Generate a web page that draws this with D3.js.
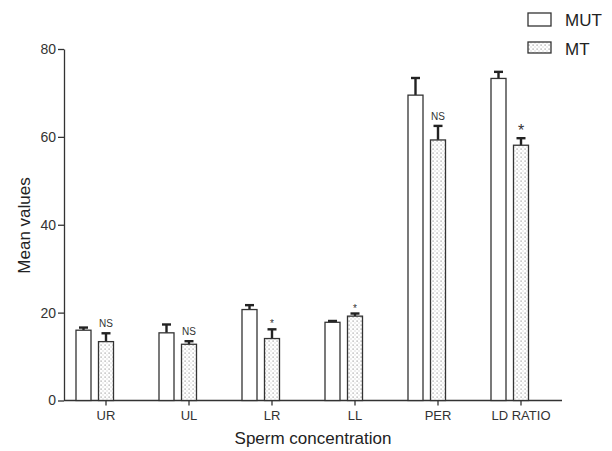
<!DOCTYPE html>
<html><head><meta charset="utf-8">
<script src="https://cdn.jsdelivr.net/npm/d3@7/dist/d3.min.js"></script>
<style>body{margin:0;background:#fff}svg{display:block;font-family:"Liberation Sans",Arial,sans-serif}</style>
</head><body><svg id="c" width="612" height="451"></svg>
<script>
const categories = ["UR","UL","LR","LL","PER","LD RATIO"];
const series = ["MUT","MT"];
const mutValues = [16.0, 15.4, 20.7, 17.8, 69.5, 73.3];
const mutErrors = [0.6, 1.9, 1.0, 0.3, 3.9, 1.5];
const mtValues = [13.4, 12.8, 14.1, 19.2, 59.3, 58.1];
const mtErrors = [1.9, 0.7, 2.1, 0.6, 3.2, 1.6];
const sigLabels = ["NS","NS","*","*","NS","*"];
const sigSizes = [10, 10, 10, 10, 10, 16];
const yTicks = [0,20,40,60,80];

const svg = d3.select("#c");
const defs = svg.append("defs");
const pat = defs.append("pattern").attr("id","dots").attr("patternUnits","userSpaceOnUse")
  .attr("width",4).attr("height",4);
pat.append("rect").attr("width",4).attr("height",4).attr("fill","#fff");
pat.append("rect").attr("x",0.5).attr("y",0.5).attr("width",1.2).attr("height",1.2).attr("fill","#999");
pat.append("rect").attr("x",2.5).attr("y",2.5).attr("width",1.0).attr("height",1.0).attr("fill","#bbb");

const axisX = 64;
const x = d3.scaleBand().domain(categories).range([64.5,562.5]).padding(0);
const y = d3.scaleLinear().domain([0,80]).range([400.5,49]);
const bw = 15;
const mutOffset = -22.5;
const ink = "#333";

// y axis
const ya = svg.append("g").attr("transform",`translate(${axisX},0)`)
  .call(d3.axisLeft(y).tickValues(yTicks).tickSize(6).tickPadding(2).tickSizeOuter(0));
ya.select(".domain").attr("stroke",ink).attr("stroke-width",1.3);
ya.selectAll(".tick line").attr("stroke",ink).attr("stroke-width",1.3);
ya.selectAll(".tick text").attr("font-size",14).attr("fill","#333").attr("font-family","Liberation Sans, Arial, sans-serif");

// x axis
const xa = svg.append("g").attr("transform",`translate(0,${y(0)})`)
  .call(d3.axisBottom(x).tickSize(5).tickPadding(5).tickSizeOuter(0));
xa.select(".domain").attr("stroke",ink).attr("stroke-width",1.3).attr("d",`M${axisX},0H562`);
xa.selectAll(".tick line").attr("stroke",ink).attr("stroke-width",1.3);
xa.selectAll(".tick text").attr("font-size",13).attr("fill","#333").attr("font-family","Liberation Sans, Arial, sans-serif");

const cx = c => x(c) + x.bandwidth()/2;

function drawBars(vals, errs, off, fill){
  const g = svg.append("g");
  categories.forEach((c,i)=>{
    const xc = cx(c) + off;
    g.append("line").attr("x1",xc).attr("x2",xc).attr("y1",y(vals[i])).attr("y2",y(vals[i]+errs[i]))
      .attr("stroke","#222").attr("stroke-width",2.4);
    g.append("line").attr("x1",xc-4.5).attr("x2",xc+4.5).attr("y1",y(vals[i]+errs[i])).attr("y2",y(vals[i]+errs[i]))
      .attr("stroke","#222").attr("stroke-width",2.4);
    g.append("rect").attr("x",xc-bw/2).attr("y",y(vals[i])).attr("width",bw).attr("height",y(0)-y(vals[i]))
      .attr("fill",fill).attr("stroke",ink).attr("stroke-width",1.3);
  });
}
drawBars(mutValues, mutErrors, mutOffset, "#fff");
drawBars(mtValues, mtErrors, 0, "url(#dots)");

// significance labels
categories.forEach((c,i)=>{
  const top = y(mtValues[i]+mtErrors[i]);
  const isStar = sigLabels[i]==="*";
  svg.append("text").attr("x",cx(c)).attr("y", isStar ? top - 2 : top - 6)
    .attr("text-anchor","middle").attr("font-size",sigSizes[i]).attr("fill","#333")
    .text(sigLabels[i]);
});

// axis titles
svg.append("text").attr("transform","translate(30,225.5) rotate(-90)").attr("text-anchor","middle")
  .attr("font-size",17).attr("fill","#222").text("Mean values");
svg.append("text").attr("x",313).attr("y",444).attr("text-anchor","middle")
  .attr("font-size",17).attr("fill","#222").text("Sperm concentration");

// legend
const leg = svg.append("g");
[["MUT","#fff",13,13],["MT","url(#dots)",42,11]].forEach(([name,fill,ty,h])=>{
  leg.append("rect").attr("x",528).attr("y",ty).attr("width",23).attr("height",h)
    .attr("fill",fill).attr("stroke",ink).attr("stroke-width",1.3);
  leg.append("text").attr("x",565).attr("y",ty+13).attr("font-size",17).attr("fill","#222").text(name);
});
</script></body></html>
